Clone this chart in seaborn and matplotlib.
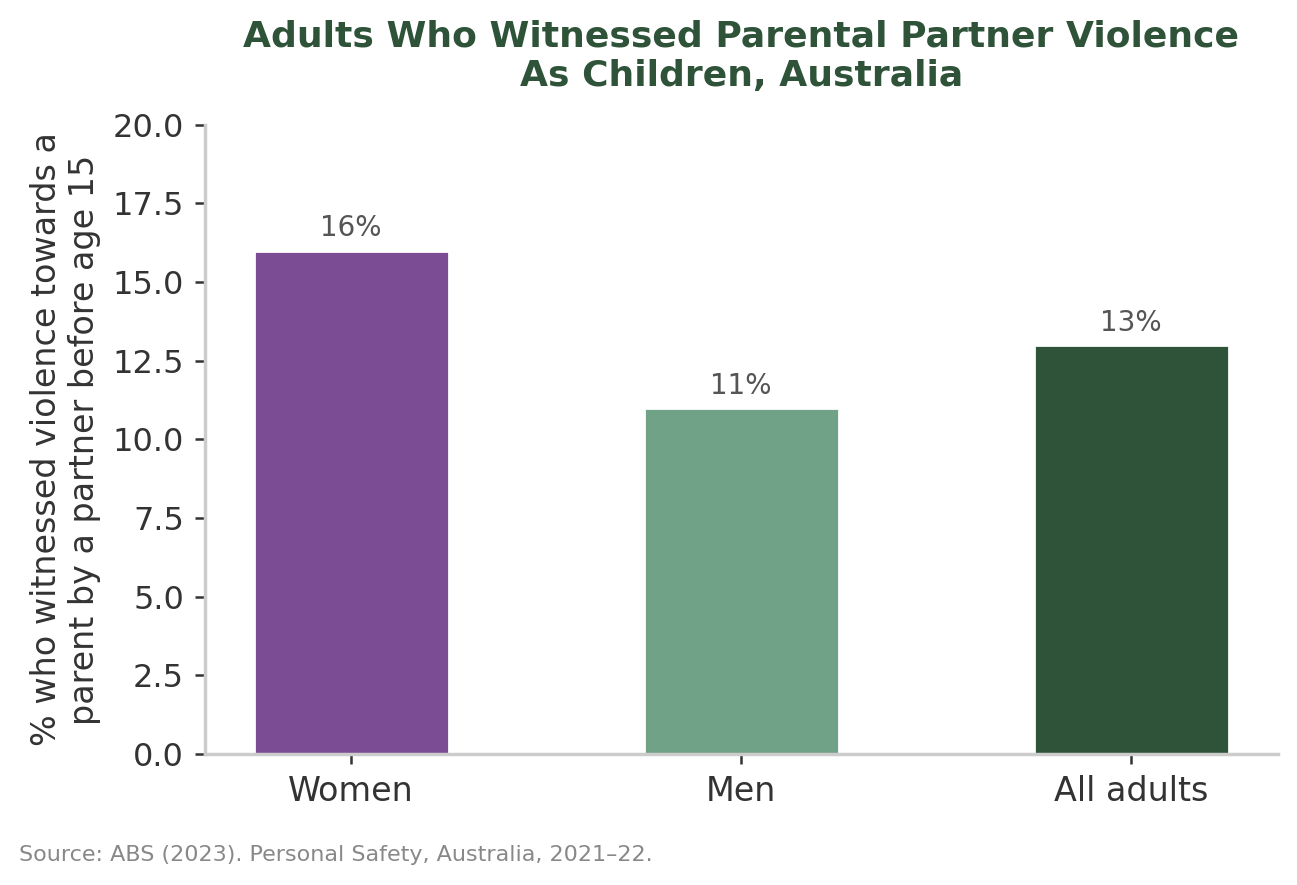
import matplotlib
matplotlib.use("Agg")
import matplotlib.pyplot as plt
import seaborn as sns
import pandas as pd

# ===========================
# DATA
# ===========================
groups = ["Women", "Men", "All adults"]
percent = [16, 11, 13]
bar_colors = ["#7B4C93", "#70A288", "#2E5339"]

df = pd.DataFrame({"group": groups, "percent": percent})

# ===========================
# PLOT
# ===========================
sns.set_theme(style="ticks", context="notebook")
plt.rcParams["font.family"] = ["DejaVu Sans"]

fig, ax = plt.subplots(figsize=(6.485, 4.425), dpi=200)
fig.subplots_adjust(left=0.158, right=0.985, bottom=0.148, top=0.859)

sns.barplot(data=df, x="group", y="percent", hue="group",
            palette=bar_colors, width=0.5, saturation=1,
            legend=False, ax=ax)

for cont in ax.containers:
    ax.bar_label(cont, fmt="%d%%", padding=3, fontsize=10, color="#555555")

ax.set_ylim(0, 20)
ax.set_xlim(-0.375, 2.375)
ax.set_xlabel("")
ax.set_ylabel("% who witnessed violence towards a\nparent by a partner before age 15",
              fontsize=12, color="#333333", labelpad=4)
ax.set_title("Adults Who Witnessed Parental Partner Violence\nAs Children, Australia",
             fontsize=13, fontweight="bold", color="#2E5339", pad=14)
ax.tick_params(axis="both", length=3.5, width=0.9, pad=4, colors="#333333")
ax.tick_params(axis="y", labelsize=11.5)
ax.tick_params(axis="x", labelsize=12)

sns.despine(ax=ax)
for side in ["left", "bottom"]:
    ax.spines[side].set_color("#cccccc")

fig.text(0.015, 0.034, "Source: ABS (2023). Personal Safety, Australia, 2021\u201322.",
         fontsize=8, color="#888888", ha="left", va="center")

plt.savefig("out.png", dpi=200)
plt.close()
